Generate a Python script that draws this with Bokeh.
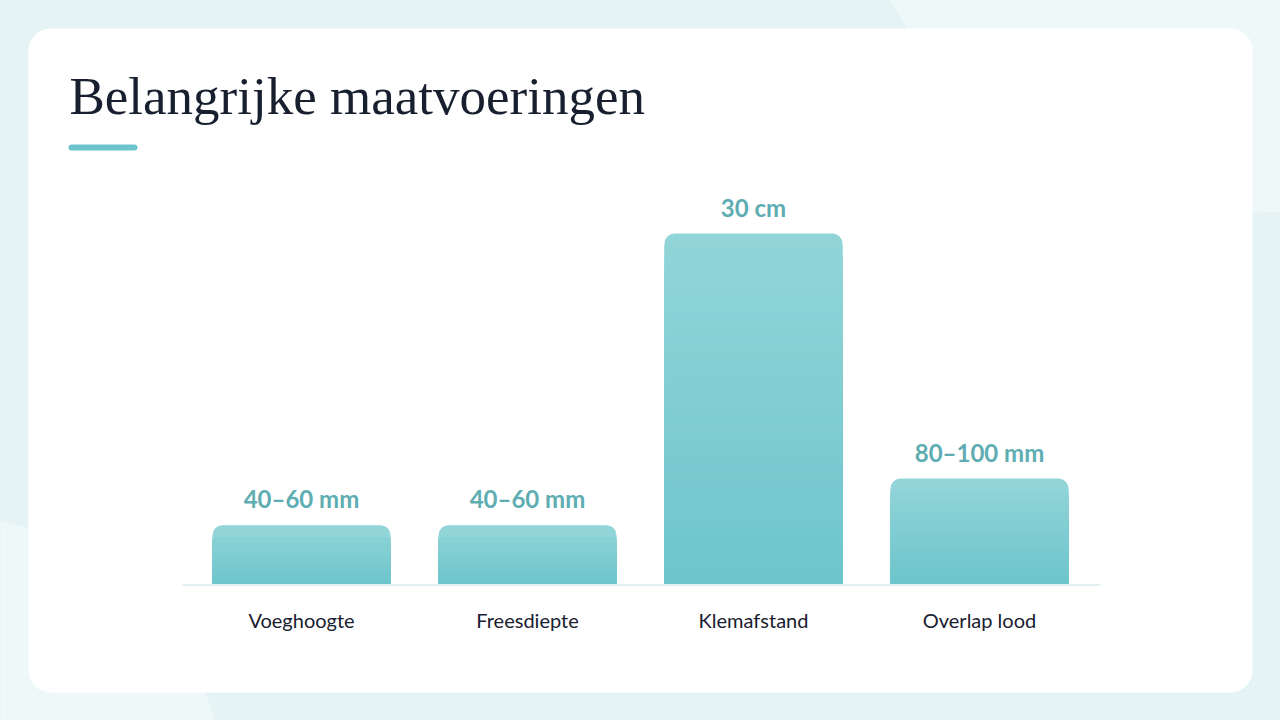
import numpy as np
from bokeh.plotting import figure
from bokeh.models import Range1d, ColumnDataSource
from bokeh.core.properties import value
from bokeh.embed import file_html
from bokeh.resources import INLINE

# ---- data ----
categories = ["Voeghoogte", "Freesdiepte", "Klemafstand", "Overlap lood"]
values_mm = [50, 50, 300, 90]
value_labels = ["40–60 mm", "40–60 mm", "30 cm", "80–100 mm"]
title_text = "Belangrijke maatvoeringen"

# ---- layout / style ----
W, H = 1280, 720
BG = "#e6f3f4"
BLOB = "#eef8f8"
CARD = "#ffffff"
BAR_TOP = "#92d5d9"
BAR_BOTTOM = "#6dc5cb"
LABEL_TEAL = "#5eadb2"
DARK = "#18202f"
px_per_mm = 350 / 300
base_y = 583  # screen pixel of baseline
y_start = -(H - base_y) / px_per_mm
y_end = base_y / px_per_mm
slot = 226.0
x0 = 301 / slot - 0.5  # left edge in slot units
xpos = np.arange(len(categories)) + 0.5  # category slot centres

p = figure(width=W, height=H, output_backend="svg", toolbar_location=None,
           x_range=Range1d(-x0, W / slot - x0),
           y_range=Range1d(y_start, y_end),
           x_axis_location=None, y_axis_location=None,
           min_border=0, outline_line_color=None,
           background_fill_color=BG, border_fill_color=BG)
p.xgrid.visible = False
p.ygrid.visible = False
p.extra_x_ranges = {"px": Range1d(0, W)}
p.extra_y_ranges = {"px": Range1d(H, 0)}
PX = dict(x_range_name="px", y_range_name="px")

# background blobs
p.circle(x=[1250], y=[-200], radius=412, fill_color=BLOB, line_color=None, **PX)
p.circle(x=[-60], y=[800], radius=286, fill_color=BLOB, line_color=None, **PX)

# card
p.quad(left=[28], right=[1252], top=[28], bottom=[692], border_radius=22,
       fill_color=CARD, line_color=None, **PX)

# title + accent
p.text(x=[69], y=[95], text=[title_text], text_font=value("Liberation Serif"),
       text_font_size="53px", text_color=DARK, text_baseline="alphabetic",
       text_align="left", **PX)
p.segment(x0=[71], x1=[134], y0=[147], y1=[147], line_width=6, line_cap="round",
          line_color="#6cc5cb", **PX)

# bars: rounded full bar in top colour, then gradient bands from the bottom
BAR_W = 178 / slot
p.vbar(x=xpos, top=values_mm, bottom=0, width=BAR_W,
       border_radius=(10, 10, 0, 0), fill_color=BAR_TOP, line_color=None)

def hex2rgb(h):
    h = h.lstrip("#")
    return np.array([int(h[i:i + 2], 16) for i in (0, 2, 4)], dtype=float)

c_top, c_bot = hex2rgb(BAR_TOP), hex2rgb(BAR_BOTTOM)
N = 40
rd = 12 / px_per_mm
bx, btop, bcol = [], [], []
for j in range(N):
    for xc, v in zip(xpos, values_mm):
        h_hi = (v - rd) * (1 - j / N)
        h_lo = (v - rd) * (1 - (j + 1) / N)
        t = ((h_hi + h_lo) / 2) / v
        c = c_bot + (c_top - c_bot) * t
        bx.append(xc)
        btop.append(h_hi)
        bcol.append("#%02x%02x%02x" % tuple(int(round(x)) for x in c))
p.vbar(x=bx, top=btop, bottom=0, width=BAR_W, fill_color=bcol, line_color=None)

# baseline
p.segment(x0=[182], x1=[1100], y0=[584.5], y1=[584.5], line_width=2,
          line_color="#e3f1f3", **PX)

# value labels
p.text(x=xpos, y=values_mm, text=value_labels, text_align="center",
       text_baseline="bottom", y_offset=-12, text_font=value("Lato"),
       text_font_style="bold", text_font_size="24px", text_color=LABEL_TEAL)

# category labels
src = ColumnDataSource(dict(x=xpos, y=[619] * len(categories), t=categories))
p.text(x="x", y="y", text="t", source=src, x_range_name="default", y_range_name="px",
       text_align="center", text_baseline="middle", text_font=value("Lato"),
       text_font_size="20px", text_color=DARK)

html = file_html(p, INLINE)
html = html.replace("<head>", "<head><style>html,body{margin:0;padding:0;overflow:hidden;background:%s;}</style>" % BG, 1)
open("out.html", "w").write(html)
